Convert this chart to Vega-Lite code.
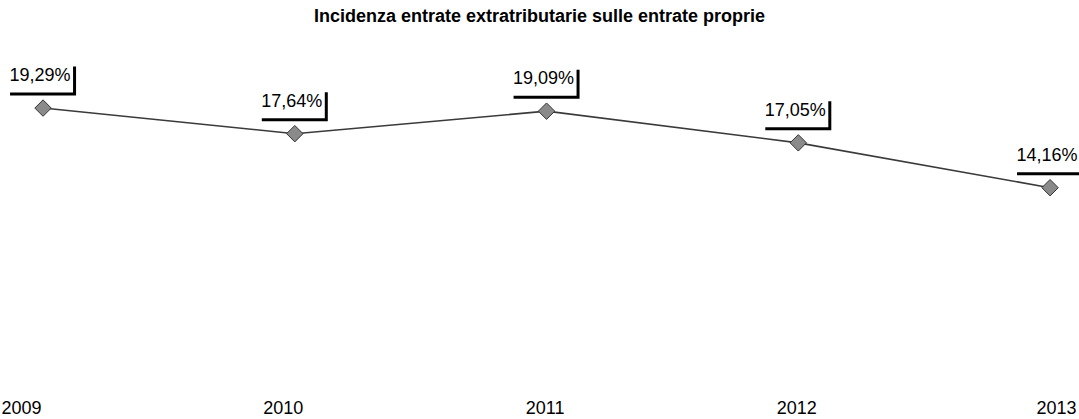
{
  "$schema": "https://vega.github.io/schema/vega-lite/v6.json",
  "autosize": {"type": "none"},
  "width": 1079,
  "height": 326,
  "padding": {"top": 66, "left": 0, "right": 0, "bottom": 27},
  "background": "white",
  "title": {
    "text": "Incidenza entrate extratributarie sulle entrate proprie",
    "font": "Liberation Sans",
    "fontSize": 18,
    "fontWeight": "bold",
    "color": "black",
    "anchor": "middle",
    "offset": 38
  },
  "config": {"view": {"stroke": null}, "font": "Liberation Sans"},
  "data": {
    "values": [
      {"anno": 2009, "valore": 19.29, "etichetta": "19,29%"},
      {"anno": 2010, "valore": 17.64, "etichetta": "17,64%"},
      {"anno": 2011, "valore": 19.09, "etichetta": "19,09%"},
      {"anno": 2012, "valore": 17.05, "etichetta": "17,05%"},
      {"anno": 2013, "valore": 14.16, "etichetta": "14,16%"}
    ]
  },
  "encoding": {
    "x": {
      "field": "anno",
      "type": "quantitative",
      "scale": {"domain": [2008.829, 2013.115], "nice": false, "zero": false},
      "axis": {
        "values": [2009, 2010, 2011, 2012, 2013],
        "format": "d",
        "title": null,
        "domain": false,
        "ticks": false,
        "grid": false,
        "labelFontSize": 18,
        "labelColor": "black",
        "labelPadding": 7,
        "labelOffset": {
          "condition": [
            {"test": "datum.value == 2009", "value": -22},
            {"test": "datum.value == 2010", "value": -12},
            {"test": "datum.value == 2013", "value": 6}
          ],
          "value": -2
        },
        "labelFont": "Liberation Sans"
      }
    },
    "y": {
      "field": "valore",
      "type": "quantitative",
      "scale": {"domain": [1, 22], "nice": false, "zero": false},
      "axis": null
    }
  },
  "layer": [
    {"mark": {"type": "line", "color": "#3a3a3a", "strokeWidth": 1.6}},
    {"mark": {"type": "point", "shape": "diamond", "filled": true, "size": 270, "fill": "#8a8a8a", "stroke": "#333333", "strokeWidth": 1, "opacity": 1}},
    {"mark": {"type": "rect", "width": 66, "height": 29, "xOffset": 0, "yOffset": -27, "fill": "black"}},
    {"mark": {"type": "rect", "width": 66, "height": 29, "xOffset": -3, "yOffset": -30, "fill": "white"}},
    {"mark": {"type": "text", "fontSize": 18, "color": "black", "dx": -3, "dy": -32, "align": "center", "baseline": "middle"}, "encoding": {"text": {"field": "etichetta"}}}
  ]
}
